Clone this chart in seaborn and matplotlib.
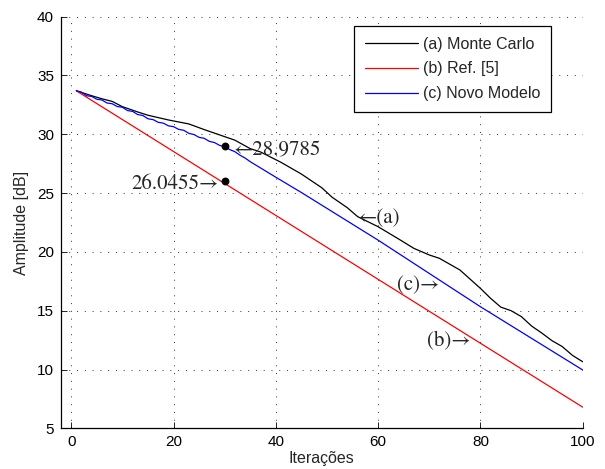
import matplotlib
matplotlib.use("Agg")
import matplotlib.pyplot as plt
import numpy as np
import pandas as pd
import seaborn as sns

# Monte Carlo simulation (a)
mc_iter = [1, 4, 6, 8, 10, 13, 15, 17, 19, 21, 23, 26, 29, 32, 35, 37, 41, 45,
           49, 51, 54, 56, 60, 64, 67, 70, 72, 76, 80, 82, 84, 86, 88, 90, 92,
           94, 96, 98, 100]
mc_amp = [33.70, 33.28, 33.02, 32.80, 32.35, 31.90, 31.62, 31.42, 31.22, 31.05,
          30.88, 30.40, 29.95, 29.50, 28.78, 28.50, 27.62, 26.62, 25.45, 24.65,
          23.75, 23.00, 22.14, 21.10, 20.30, 19.74, 19.45, 18.46, 16.90, 16.05,
          15.30, 15.00, 14.50, 13.70, 13.10, 12.45, 11.95, 11.20, 10.66]

# Reference model [5] (b)
ref_iter = [1, 100]
ref_amp = [33.70, 6.80]

# Proposed model (c)
new_iter = list(range(1, 36)) + [40, 45, 50, 55, 60, 70, 80, 90, 100]
new_amp = [33.70, 33.58, 33.28, 33.22, 32.98, 32.92, 32.66, 32.60, 32.36, 32.30,
           32.02, 31.95, 31.68, 31.60, 31.32, 31.25, 31.02, 30.95, 30.72, 30.65,
           30.42, 30.34, 30.08, 29.98, 29.74, 29.66, 29.40, 29.30, 29.06, 28.94,
           28.70, 28.52, 28.22, 27.98, 27.67, 26.35, 25.05, 23.70, 22.35, 21.00,
           18.17, 15.34, 12.65, 9.96]

# Highlighted values at iteration 30
mark_iter = [30, 30]
mark_amp = [26.0455, 28.9785]

series_labels = ["(a) Monte Carlo", "(b) Ref. [5]", "(c) Novo Modelo"]
series_colors = ["black", "red", "blue"]

sns.set_style("ticks")
plt.rcParams["font.family"] = ["Liberation Sans", "DejaVu Sans"]

fig = plt.figure(figsize=(6.05, 4.69), dpi=100)
ax = fig.add_axes([61 / 605, 1 - 428.3 / 469, 521.7 / 605, 411.6 / 469])

frames = [
    pd.DataFrame({"it": mc_iter, "amp": mc_amp}),
    pd.DataFrame({"it": ref_iter, "amp": ref_amp}),
    pd.DataFrame({"it": new_iter, "amp": new_amp}),
]
for df, lab, col in zip(frames, series_labels, series_colors):
    sns.lineplot(data=df, x="it", y="amp", ax=ax, color=col, lw=0.9,
                 label=lab, sort=False, estimator=None)

sns.scatterplot(x=mark_iter, y=mark_amp, ax=ax, color="black", s=32,
                edgecolor="black", linewidth=0, zorder=5, legend=False)

ax.set_xlim(-2, 100)
ax.set_ylim(5, 40)
ax.set_xticks(np.arange(0, 101, 20))
ax.set_yticks(np.arange(5, 41, 5))
ax.tick_params(direction="in", length=4, width=0.6, labelsize=11,
               colors="black", pad=5)
for s in ["top", "right"]:
    ax.spines[s].set_visible(False)
for s in ["left", "bottom"]:
    ax.spines[s].set_linewidth(0.9)
    ax.spines[s].set_color("black")

ax.grid(True, color="#333333", linestyle=(0, (1, 7)), linewidth=0.7)
ax.set_xlabel("Iterações", fontsize=11.5, labelpad=1)
ax.set_ylabel("Amplitude [dB]", fontsize=11.5, labelpad=6)

serif = ["STIXGeneral", "Liberation Serif", "DejaVu Serif"]
ann_kw = dict(fontsize=15, family=serif, va="center")
ax.text(28.8, 25.8, f"{mark_amp[0]:.4f}\u2192", ha="right", **ann_kw)
ax.text(31.8, 28.6, f"\u2190{mark_amp[1]:.4f}", ha="left", **ann_kw)
ax.text(55.9, 22.9, "\u2190(a)", ha="left", **ann_kw)
ax.text(71.9, 17.2, "(c)\u2192", ha="right", **ann_kw)
ax.text(78.1, 12.4, "(b)\u2192", ha="right", **ann_kw)

leg = ax.legend(loc="upper right", bbox_to_anchor=(0.939, 0.977),
                borderaxespad=0, fontsize=11.5, frameon=True, fancybox=False,
                framealpha=1, edgecolor="black", handlelength=3.3,
                handletextpad=0.35, labelspacing=0.62, borderpad=0.65)
leg.get_frame().set_linewidth(0.9)

fig.savefig("out.png", dpi=100)
